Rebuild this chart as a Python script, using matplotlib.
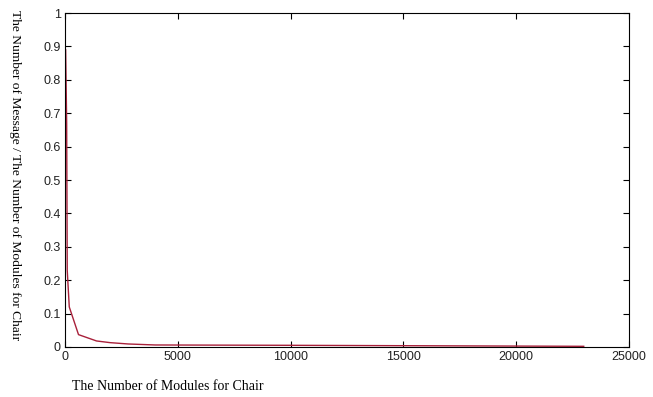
import matplotlib.pyplot as plt

# number of modules for chair vs. message ratio
modules = [30, 75, 100, 190, 600, 1400, 2000, 2800, 4000, 10000, 23000]
ratio = [0.89, 0.67, 0.23, 0.12, 0.037, 0.018, 0.013, 0.009, 0.006, 0.005, 0.002]

x_ticks = [0, 5000, 10000, 15000, 20000, 25000]
y_ticks = [0, 0.1, 0.2, 0.3, 0.4, 0.5, 0.6, 0.7, 0.8, 0.9, 1]
y_tick_labels = ['0', '0.1', '0.2', '0.3', '0.4', '0.5', '0.6', '0.7', '0.8', '0.9', '1']

fig = plt.figure(figsize=(6.53, 3.97), dpi=100)
ax = fig.add_axes([0.0995, 0.126, 0.8635, 0.841])

ax.plot(modules, ratio, color='#a8203a', linewidth=1.0)

ax.set_xlim(0, 25000)
ax.set_ylim(0, 1)
ax.set_xticks(x_ticks)
ax.set_xticklabels([str(t) for t in x_ticks])
ax.set_yticks(y_ticks)
ax.set_yticklabels(y_tick_labels)
ax.tick_params(direction='in', top=True, right=True, length=4, width=0.8,
               labelsize=9, pad=3)
for lab in ax.get_xticklabels() + ax.get_yticklabels():
    lab.set_family('Liberation Sans')
    lab.set_color('#222222')
for s in ax.spines.values():
    s.set_linewidth(0.8)

fig.text(0.110, 0.026, 'The Number of Modules for Chair', family='Liberation Serif',
         fontsize=10, ha='left', va='center')
fig.text(0.023, 0.56, 'The Number of Message / The Number of Modules for Chair',
         family='Liberation Serif', fontsize=9.7, rotation=-90,
         ha='center', va='center')

fig.savefig('out.png', dpi=100)
